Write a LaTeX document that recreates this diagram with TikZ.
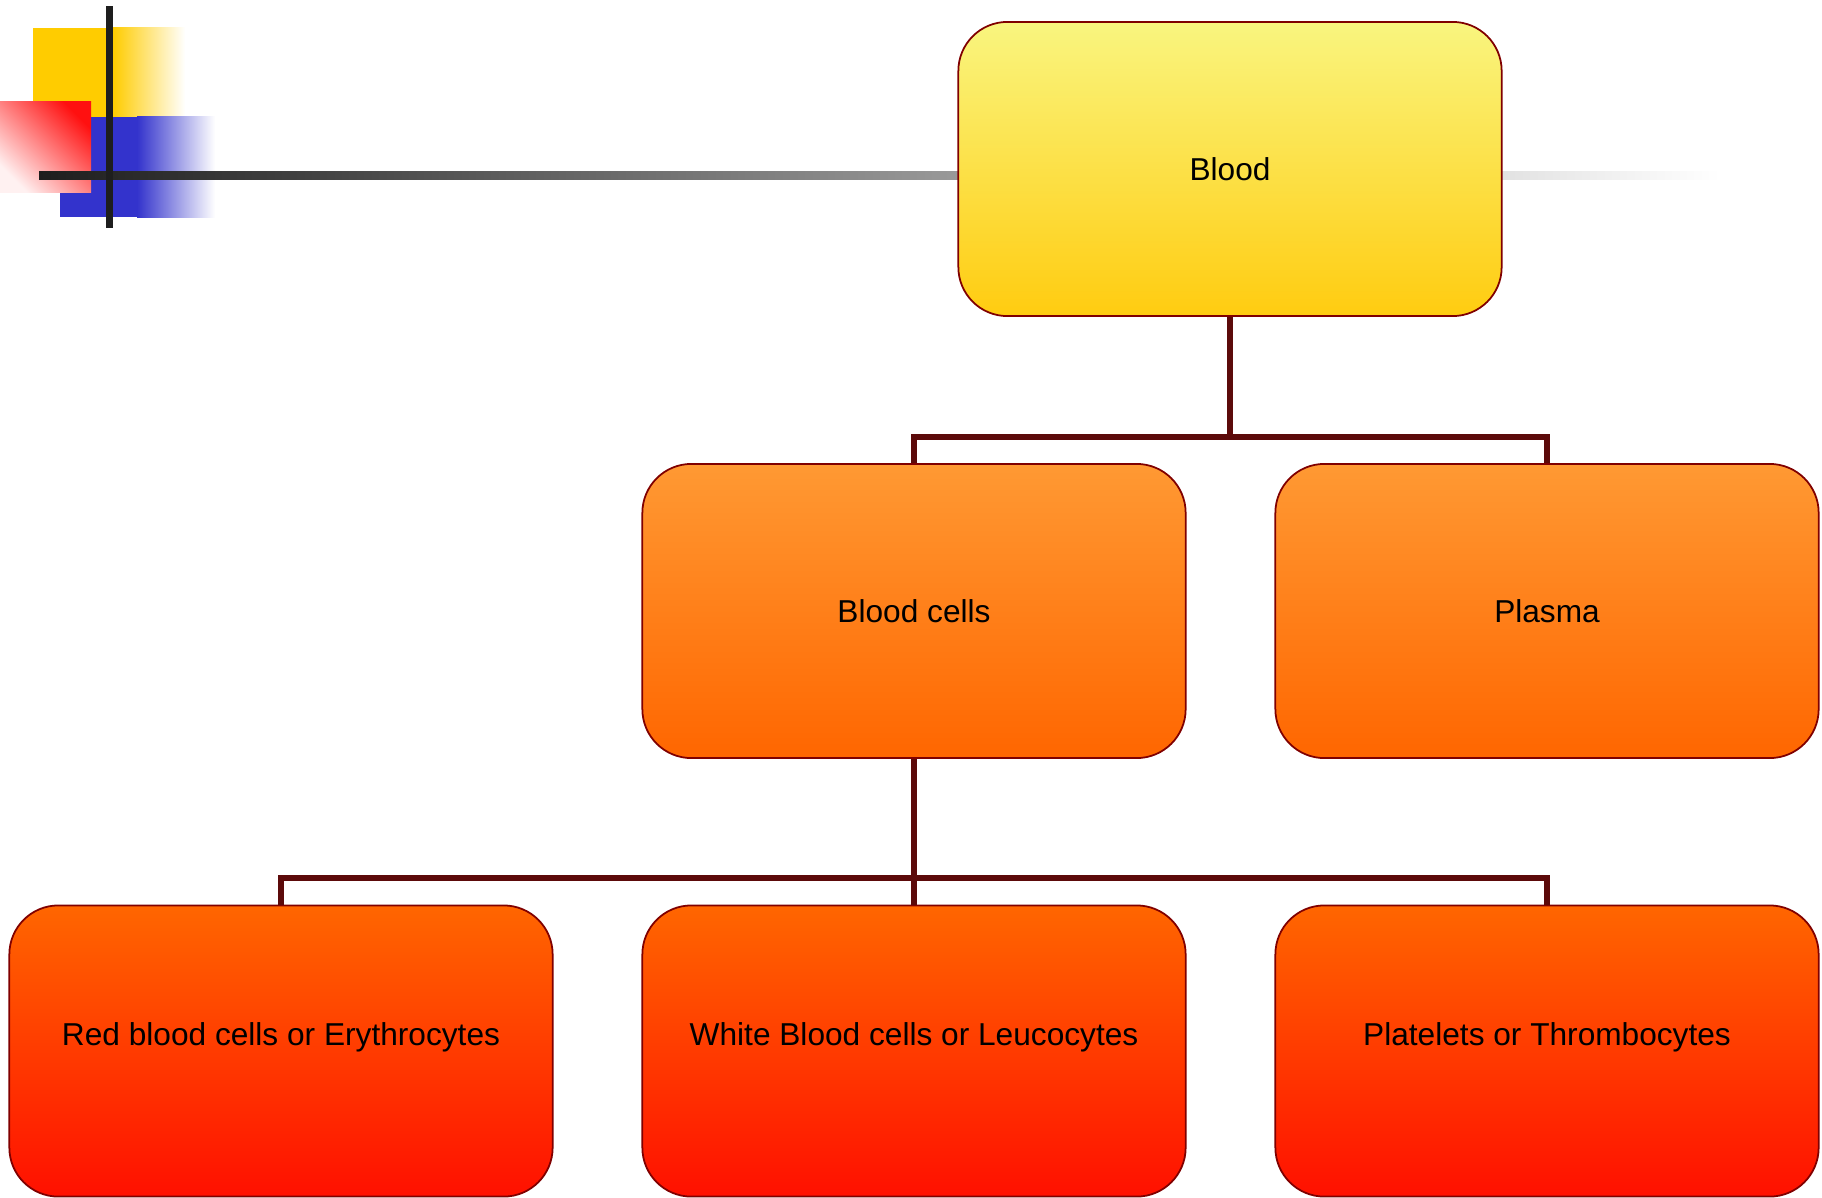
\documentclass[tikz,border=0pt]{standalone}
\usepackage{fontspec}
\setmainfont{Liberation Sans}
\definecolor{boxline}{HTML}{800000}
\definecolor{linkcol}{HTML}{5C0A0A}
\definecolor{lemon}{HTML}{F9F57F}
\definecolor{gold}{HTML}{FFCC10}
\definecolor{peach}{HTML}{FF9933}
\definecolor{tang}{HTML}{FF6600}
\definecolor{scarlet}{HTML}{FF1000}
\definecolor{decoyel}{HTML}{FFCC00}
\definecolor{decoblu}{HTML}{3333CC}
\definecolor{decored}{HTML}{FF1010}
\definecolor{bar}{HTML}{1E1E1E}
\tikzset{
  box/.style={draw=boxline, line width=0.5pt, rounded corners=0.49cm,
    minimum width=5.43cm, minimum height=2.94cm,
    font=\fontsize{9}{11}\selectfont},
  top/.style={box, top color=lemon, bottom color=gold},
  mid/.style={box, top color=peach, bottom color=tang},
  low/.style={box, minimum height=2.91cm, text depth=9.9pt,
    top color=tang, bottom color=scarlet},
  link/.style={draw=linkcol, line width=1.8pt},
}
\begin{document}
\begin{tikzpicture}[x=0.01cm,y=-0.01cm]
      \useasboundingbox (0,0) rectangle (1822,1197);
      % corner ornament
      \fill[decoyel] (33,28) rectangle (113,117);
      \shade[left color=decoyel, right color=white] (113,28) rectangle (185,117);
      \fill[decoblu] (60,117) rectangle (137,217);
      \shade[left color=decoblu, right color=white] (137,117) rectangle (215,217);
      \shade[top color=decored, bottom color=white!94!decored, shading angle=-45]
        (0,102) rectangle (91,192);
      \shade[left color=bar, middle color=black!34, right color=white]
        (39,172) rectangle (1720,180);
      \fill[bar] (106,6) rectangle (113,228);
      % tree
      \draw
        (1230,169) node[top] (blood){Blood}
        (914,611) node[mid] (cells){Blood cells}
        (1547,611) node[mid] (plasma){Plasma}
        (281,1051) node[low] (rbc){Red blood cells or Erythrocytes}
        (914,1051) node[low] (wbc){White Blood cells or Leucocytes}
        (1547,1051) node[low] (plt){Platelets or Thrombocytes};
      \coordinate (j1) at (1230,437);
      \coordinate (j2) at (914,878);
      \begin{scope}[link]
        \draw (blood.south) -- (j1);
        \draw (j1) -| (cells.north);
        \draw (j1) -| (plasma.north);
        \draw (cells.south) -- (j2);
        \draw (j2) -| (rbc.north);
        \draw (j2) -- (wbc.north);
        \draw (j2) -| (plt.north);
      \end{scope}
    \end{tikzpicture}
\end{document}
